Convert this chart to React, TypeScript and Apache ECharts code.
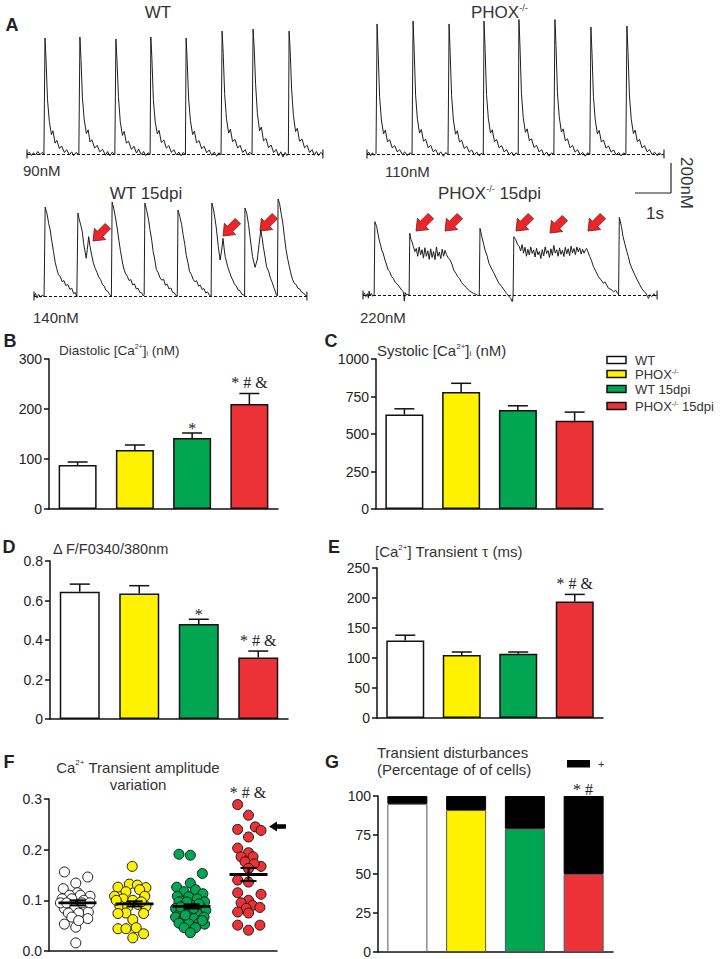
import React, { useEffect, useRef } from "react";
import * as echarts from "echarts";

// ---------------- data ----------------
const GROUPS = ["WT", "PHOX-/-", "WT 15dpi", "PHOX-/- 15dpi"];
const GROUP_COLORS = ["#ffffff", "#fff200", "#00a651", "#ec3237"];

const DIASTOLIC_MEAN = [88, 118, 142, 210];
const DIASTOLIC_SEM = [6, 10, 10, 21];
const DIASTOLIC_NOTES = ["", "", "*", "* # &"];

const SYSTOLIC_MEAN = [630, 780, 660, 588];
const SYSTOLIC_SEM = [38, 58, 28, 58];
const SYSTOLIC_NOTES = ["", "", "", ""];

const DELTA_F_MEAN = [0.644, 0.636, 0.481, 0.312];
const DELTA_F_SEM = [0.039, 0.039, 0.024, 0.032];
const DELTA_F_NOTES = ["", "", "*", "* # &"];

const TAU_MEAN = [129, 105, 107, 194];
const TAU_SEM = [9, 5, 3, 12];
const TAU_NOTES = ["", "", "", "* # &"];

// amplitude variation: [jitter (category units), value]
const AMP_WT: [number, number][] = [
  [-0.23, 0.156], [0.18, 0.146], [-0.03, 0.134], [-0.25, 0.123], [0, 0.115], [-0.14, 0.11], [0.05, 0.11],
  [0.22, 0.108], [-0.27, 0.103], [-0.1, 0.103], [0.11, 0.1], [-0.23, 0.084], [-0.05, 0.087], [0.13, 0.09],
  [-0.16, 0.075], [0.02, 0.075], [0.19, 0.077], [-0.1, 0.067], [0.18, 0.064], [-0.23, 0.053], [-0.03, 0.047],
  [-0.03, 0.016], [0.08, 0.095], [-0.3, 0.095], [0.22, 0.095], [-0.19, 0.095], [0.02, 0.06],
];
const AMP_PHOX: [number, number][] = [
  [-0.04, 0.167], [-0.29, 0.126], [-0.09, 0.132], [0.05, 0.13], [0.2, 0.125], [-0.15, 0.117], [0.09, 0.121],
  [-0.35, 0.108], [0.18, 0.108], [-0.2, 0.103], [-0.03, 0.1], [0.06, 0.092], [-0.26, 0.09], [-0.12, 0.087],
  [0.2, 0.088], [-0.15, 0.075], [0.16, 0.074], [-0.29, 0.074], [-0.03, 0.062], [-0.29, 0.044], [-0.15, 0.044],
  [0.03, 0.046], [0.16, 0.034], [-0.03, 0.026], [-0.32, 0.1], [0.12, 0.097],
];
const AMP_WT15: [number, number][] = [
  [-0.22, 0.191], [-0.02, 0.189], [0.19, 0.153], [-0.02, 0.134], [-0.26, 0.126], [-0.13, 0.117], [0.07, 0.121],
  [0.2, 0.113], [-0.25, 0.108], [-0.05, 0.107], [0.1, 0.103], [0.23, 0.097], [-0.22, 0.097], [-0.13, 0.09],
  [0.01, 0.09], [0.16, 0.087], [-0.28, 0.084], [0.25, 0.08], [-0.19, 0.077], [-0.05, 0.075], [0.1, 0.074],
  [-0.28, 0.067], [-0.13, 0.064], [0.04, 0.064], [0.22, 0.067], [-0.22, 0.055], [-0.05, 0.054], [0.13, 0.055],
  [0.23, 0.053], [-0.13, 0.046], [0.07, 0.046], [-0.02, 0.036], [-0.08, 0.097], [0.13, 0.093], [-0.19, 0.087],
  [0.04, 0.084], [-0.11, 0.071], [0.19, 0.06],
];
const AMP_PHOX15: [number, number][] = [
  [-0.19, 0.289], [0, 0.268], [0.12, 0.245], [0.22, 0.238], [-0.19, 0.24], [0, 0.225], [-0.19, 0.203],
  [0, 0.194], [-0.13, 0.186], [0.08, 0.186], [-0.06, 0.176], [0.22, 0.167], [0.1, 0.172], [0, 0.163],
  [-0.19, 0.14], [0, 0.136], [-0.19, 0.115], [0.22, 0.112], [0, 0.1], [-0.13, 0.095], [0.07, 0.09],
  [0.2, 0.086], [-0.04, 0.084], [-0.19, 0.077], [0, 0.075], [-0.19, 0.051], [0, 0.041], [0.2, 0.051],
];
const AMP_MEAN = [0.095, 0.093, 0.088, 0.151];
const AMP_SEM = [0.005, 0.005, 0.004, 0.013];

const NORMAL_PCT = [95, 91, 79, 50];
const DISTURBED_PCT = [5, 9, 21, 50];

// Ca2+ traces: [time (s), [Ca2+] (nM)]
const TRACE_WT: [number, number][] = [
  [0, 88], [0.06, 102], [0.12, 80], [0.18, 98], [0.24, 84], [0.3, 106], [0.36, 86], [0.42, 100], [0.47, 90],
  [0.5, 838], [0.53, 690], [0.57, 440], [0.62, 300], [0.68, 215], [0.72, 240], [0.78, 160], [0.83, 178], [0.9, 125], [0.96, 142], [1.04, 100], [1.1, 118], [1.18, 84], [1.24, 104], [1.3, 80], [1.36, 100], [1.44, 86],
  [1.47, 845], [1.5, 700], [1.54, 450], [1.59, 310], [1.65, 222], [1.7, 246], [1.75, 168], [1.8, 182], [1.88, 128], [1.95, 146], [2.02, 104], [2.1, 120], [2.18, 82], [2.24, 106], [2.3, 78], [2.37, 102], [2.44, 86],
  [2.47, 832], [2.5, 690], [2.54, 460], [2.59, 300], [2.65, 210], [2.7, 236], [2.76, 160], [2.82, 172], [2.9, 120], [2.97, 140], [3.04, 96], [3.1, 122], [3.17, 86], [3.24, 106], [3.3, 80], [3.36, 98], [3.42, 88],
  [3.44, 845], [3.47, 705], [3.51, 440], [3.56, 300], [3.62, 220], [3.67, 242], [3.73, 165], [3.8, 180], [3.87, 128], [3.94, 144], [4.01, 100], [4.08, 118], [4.15, 84], [4.22, 102], [4.28, 78], [4.34, 100], [4.4, 86],
  [4.42, 838], [4.45, 690], [4.49, 445], [4.54, 305], [4.6, 215], [4.65, 238], [4.71, 162], [4.78, 176], [4.85, 124], [4.92, 140], [4.99, 98], [5.06, 116], [5.13, 82], [5.2, 102], [5.27, 76], [5.33, 98], [5.39, 84],
  [5.42, 883], [5.45, 740], [5.49, 480], [5.54, 320], [5.6, 225], [5.65, 250], [5.71, 170], [5.78, 184], [5.85, 128], [5.92, 146], [5.99, 100], [6.06, 118], [6.12, 84], [6.19, 100], [6.25, 88],
  [6.28, 896], [6.31, 780], [6.35, 540], [6.4, 350], [6.46, 240], [6.51, 264], [6.57, 175], [6.64, 190], [6.71, 130], [6.78, 148], [6.85, 100], [6.92, 120], [6.99, 78], [7.05, 104], [7.11, 70], [7.17, 100], [7.22, 80], [7.26, 94],
  [7.28, 883], [7.31, 760], [7.35, 510], [7.4, 340], [7.46, 235], [7.51, 256], [7.57, 172], [7.64, 186], [7.71, 130], [7.78, 146], [7.85, 100], [7.92, 118], [7.98, 82], [8.04, 106], [8.1, 80], [8.16, 100], [8.22, 90],
];
const TRACE_PHOX: [number, number][] = [
  [0, 108], [0.05, 122], [0.1, 98], [0.15, 118], [0.2, 102], [0.25, 114],
  [0.28, 949], [0.31, 760], [0.35, 480], [0.4, 330], [0.46, 240], [0.51, 264], [0.57, 188], [0.63, 202], [0.7, 150], [0.77, 164], [0.84, 124], [0.91, 138], [0.98, 108], [1.05, 124], [1.12, 100], [1.19, 118], [1.25, 106],
  [1.28, 968], [1.31, 780], [1.35, 490], [1.4, 335], [1.46, 245], [1.51, 268], [1.57, 192], [1.63, 206], [1.7, 150], [1.77, 166], [1.84, 124], [1.91, 138], [1.98, 104], [2.05, 124], [2.12, 96], [2.19, 120], [2.25, 104],
  [2.28, 949], [2.31, 765], [2.35, 485], [2.4, 330], [2.46, 238], [2.51, 260], [2.57, 188], [2.63, 198], [2.7, 146], [2.77, 160], [2.84, 122], [2.91, 136], [2.98, 104], [3.05, 122], [3.12, 98], [3.18, 116], [3.23, 104],
  [3.25, 968], [3.28, 790], [3.32, 495], [3.37, 340], [3.43, 245], [3.48, 266], [3.54, 190], [3.6, 204], [3.67, 150], [3.74, 164], [3.81, 124], [3.88, 138], [3.95, 104], [4.02, 122], [4.08, 98], [4.14, 118], [4.2, 104],
  [4.22, 987], [4.25, 800], [4.29, 500], [4.34, 345], [4.4, 250], [4.45, 272], [4.51, 195], [4.57, 208], [4.64, 152], [4.71, 166], [4.78, 124], [4.85, 138], [4.92, 102], [4.99, 122], [5.06, 96], [5.13, 118], [5.19, 104],
  [5.22, 987], [5.25, 810], [5.29, 505], [5.34, 350], [5.4, 252], [5.45, 272], [5.51, 195], [5.57, 208], [5.64, 150], [5.71, 166], [5.78, 122], [5.85, 138], [5.92, 104], [5.99, 120], [6.06, 96], [6.13, 118], [6.19, 106],
  [6.22, 929], [6.25, 760], [6.29, 480], [6.34, 330], [6.4, 240], [6.45, 262], [6.51, 188], [6.57, 200], [6.64, 148], [6.71, 162], [6.78, 122], [6.85, 136], [6.92, 104], [6.99, 120], [7.06, 98], [7.13, 118], [7.19, 104],
  [7.22, 936], [7.25, 765], [7.29, 485], [7.34, 335], [7.4, 242], [7.45, 264], [7.51, 190], [7.57, 204], [7.64, 150], [7.71, 164], [7.78, 124], [7.85, 138], [7.92, 106], [7.99, 122], [8.06, 100], [8.12, 118], [8.18, 104], [8.25, 110],
];
const TRACE_WT15: [number, number][] = [
  [0, 140], [0.04, 156], [0.08, 128], [0.13, 150], [0.18, 132], [0.23, 146], [0.28, 136],
  [0.31, 714], [0.36, 672], [0.41, 606], [0.45, 566], [0.5, 486], [0.54, 428], [0.59, 356], [0.63, 318], [0.68, 278], [0.73, 266], [0.78, 232], [0.83, 240], [0.88, 208], [0.94, 214], [1.0, 182], [1.05, 190], [1.1, 156], [1.15, 162], [1.19, 134],
  [1.22, 675], [1.25, 641], [1.3, 596], [1.34, 558], [1.38, 478], [1.42, 424], [1.45, 383], [1.48, 440], [1.52, 523], [1.55, 468], [1.59, 418], [1.65, 352], [1.7, 318], [1.75, 292], [1.8, 262], [1.85, 246], [1.9, 214], [1.95, 204], [2.0, 176], [2.05, 170], [2.1, 150], [2.15, 140],
  [2.17, 746], [2.22, 700], [2.27, 636], [2.31, 578], [2.36, 496], [2.4, 434], [2.45, 366], [2.49, 320], [2.54, 286], [2.59, 268], [2.64, 240], [2.69, 246], [2.74, 212], [2.79, 218], [2.84, 186], [2.89, 190], [2.94, 164], [2.99, 160], [3.04, 140], [3.06, 148],
  [3.08, 740], [3.13, 692], [3.18, 636], [3.22, 570], [3.27, 500], [3.31, 426], [3.36, 368], [3.4, 310], [3.45, 290], [3.5, 258], [3.55, 242], [3.6, 248], [3.65, 210], [3.7, 216], [3.75, 186], [3.8, 192], [3.85, 164], [3.9, 160], [3.94, 144], [3.98, 138],
  [4.0, 695], [4.05, 652], [4.1, 602], [4.14, 538], [4.19, 472], [4.23, 402], [4.28, 352], [4.32, 298], [4.37, 280], [4.42, 248], [4.47, 232], [4.52, 238], [4.57, 204], [4.62, 210], [4.67, 182], [4.72, 188], [4.77, 160], [4.82, 166], [4.87, 146], [4.92, 138],
  [4.94, 740], [4.99, 695], [5.06, 587], [5.12, 458], [5.17, 372], [5.21, 430], [5.25, 512], [5.28, 450], [5.31, 394], [5.38, 330], [5.43, 296], [5.48, 262], [5.52, 244], [5.57, 214], [5.62, 206], [5.67, 178], [5.72, 174], [5.77, 152], [5.82, 148], [5.85, 140],
  [5.86, 708], [5.91, 673], [5.96, 600], [6.0, 523], [6.07, 394], [6.14, 325], [6.2, 372], [6.25, 470], [6.3, 566], [6.34, 510], [6.37, 458], [6.42, 390], [6.46, 329], [6.52, 296], [6.57, 254], [6.62, 226], [6.66, 196], [6.7, 172], [6.73, 150], [6.76, 140],
  [6.78, 766], [6.82, 738], [6.87, 666], [6.91, 612], [6.96, 516], [7.0, 440], [7.05, 376], [7.09, 332], [7.14, 282], [7.18, 248], [7.23, 222], [7.28, 214], [7.33, 190], [7.38, 186], [7.43, 166], [7.48, 160], [7.53, 146], [7.58, 140],
];
const TRACE_PHOX15: [number, number][] = [
  [0, 220], [0.04, 232], [0.08, 210], [0.12, 228], [0.15, 200], [0.17, 246], [0.19, 214], [0.23, 230], [0.27, 212], [0.31, 224],
  [0.33, 693], [0.38, 661], [0.42, 610], [0.45, 575], [0.49, 540], [0.52, 510], [0.56, 490], [0.61, 446], [0.65, 420], [0.7, 381], [0.74, 372], [0.79, 340], [0.84, 327], [0.9, 300], [0.98, 284], [1.03, 266], [1.08, 250], [1.12, 241], [1.15, 180], [1.17, 236], [1.21, 220], [1.25, 226],
  [1.28, 214], [1.3, 618], [1.33, 580], [1.36, 564], [1.4, 532], [1.44, 500], [1.48, 520], [1.52, 470], [1.56, 530], [1.6, 480], [1.64, 512], [1.68, 458], [1.72, 525], [1.76, 470], [1.8, 505], [1.84, 450], [1.88, 518], [1.92, 462], [1.96, 500], [2.0, 448], [2.04, 530], [2.08, 470], [2.12, 496], [2.16, 455], [2.2, 515], [2.24, 470], [2.28, 508], [2.32, 480], [2.36, 462],
  [2.42, 446], [2.47, 420], [2.52, 381], [2.58, 360], [2.63, 340], [2.68, 327], [2.74, 300], [2.8, 284], [2.86, 270], [2.93, 252], [3.0, 240], [3.07, 231], [3.14, 224], [3.2, 216],
  [3.23, 220], [3.25, 650], [3.3, 596], [3.35, 550], [3.39, 510], [3.45, 470], [3.5, 424], [3.56, 395], [3.64, 360], [3.7, 330], [3.78, 295], [3.85, 275], [3.92, 252], [3.99, 230], [4.06, 209], [4.1, 200], [4.15, 171], [4.17, 220],
  [4.19, 596], [4.24, 579], [4.29, 548], [4.34, 532], [4.38, 505], [4.42, 545], [4.46, 490], [4.5, 528], [4.54, 470], [4.58, 515], [4.62, 478], [4.66, 530], [4.7, 488], [4.74, 510], [4.78, 465], [4.82, 522], [4.86, 480], [4.9, 500], [4.94, 455], [4.98, 512], [5.02, 472], [5.06, 530], [5.1, 488], [5.14, 506], [5.18, 462], [5.22, 518], [5.26, 476], [5.3, 540], [5.34, 490], [5.38, 512], [5.42, 470], [5.46, 524], [5.5, 482], [5.54, 508], [5.58, 468], [5.62, 528], [5.66, 486], [5.7, 518], [5.74, 474], [5.78, 535], [5.82, 492], [5.86, 520], [5.9, 480], [5.94, 530], [5.98, 498], [6.02, 524], [6.06, 484], [6.1, 515], [6.14, 490], [6.18, 512], [6.21, 521],
  [6.3, 467], [6.35, 440], [6.4, 403], [6.47, 372], [6.54, 338], [6.61, 318], [6.68, 295], [6.72, 305], [6.82, 263], [6.89, 256], [6.96, 241], [7.02, 250], [7.07, 231], [7.1, 222],
  [7.12, 721], [7.18, 661], [7.22, 600], [7.27, 553], [7.33, 500], [7.37, 467], [7.42, 420], [7.49, 381], [7.55, 350], [7.62, 317], [7.68, 290], [7.74, 263], [7.8, 245], [7.86, 231], [7.9, 212], [7.93, 198], [7.97, 222], [8.02, 210], [8.08, 228], [8.12, 214], [8.17, 220],
];
const TRACE_BASELINES = [90, 110, 140, 220];
const TRACE_BASELINE_LABELS = ["90nM", "110nM", "140nM", "220nM"];

// ---------------- layout / style ----------------
const FONT = "Liberation Sans";
const SERIF = "Liberation Serif";
const TXT = "#333";
const PX_PER_S = 36;
const NM_PER_PX = 200 / 31;
const TRACE_LAYOUT = [
  { left: 27, baseY: 154 },
  { left: 367, baseY: 154 },
  { left: 34, baseY: 296 },
  { left: 363, baseY: 295 },
];
const TRACES = [TRACE_WT, TRACE_PHOX, TRACE_WT15, TRACE_PHOX15];

function richFor(size: number) {
  const s = Math.max(7, Math.round(size * 0.55));
  return {
    sup: { fontSize: s, verticalAlign: "top", fontFamily: FONT, fill: TXT },
    sub: { fontSize: s, verticalAlign: "bottom", fontFamily: FONT, fill: TXT },
    g: { fontSize: size + 1, fontFamily: SERIF, fill: TXT },
  };
}

function txt(x: number, y: number, text: string, o: any = {}) {
  const size = o.size || 14;
  return {
    type: "text",
    x,
    y,
    rotation: o.rot || 0,
    silent: true,
    style: {
      text,
      fill: o.fill || TXT,
      fontSize: size,
      fontFamily: o.family || FONT,
      fontWeight: o.weight || "normal",
      align: o.align || "left",
      verticalAlign: o.va || "middle",
      lineHeight: o.lh,
      rich: richFor(size),
    },
  };
}

function redArrow(tx: number, ty: number) {
  const L = 21, H = 10, HW = 8, SW = 3.8;
  const c = Math.SQRT1_2;
  const ux = c, uy = -c, px = c, py = c;
  const pts = [
    [0, 0],
    [H * ux + HW * px, H * uy + HW * py],
    [H * ux + SW * px, H * uy + SW * py],
    [L * ux + SW * px, L * uy + SW * py],
    [L * ux - SW * px, L * uy - SW * py],
    [H * ux - SW * px, H * uy - SW * py],
    [H * ux - HW * px, H * uy - HW * py],
  ].map(([a, b]) => [tx + a, ty + b]);
  return { type: "polygon", silent: true, shape: { points: pts }, style: { fill: "#e8262b", stroke: "#7a1616", lineWidth: 0.8 } };
}

function line(x1: number, y1: number, x2: number, y2: number, w = 1.2) {
  return { type: "line", silent: true, shape: { x1, y1, x2, y2 }, style: { stroke: "#222", lineWidth: w } };
}

function valueYAxis(gridIndex: number, min: number, max: number, interval: number, fmt?: any) {
  return {
    type: "value",
    gridIndex,
    min,
    max,
    interval,
    axisLine: { show: true, lineStyle: { color: "#111", width: 1.5 } },
    axisTick: { show: true, length: 5, lineStyle: { color: "#111", width: 1.5 } },
    axisLabel: { color: "#222", fontSize: 14, fontFamily: FONT, margin: 7, formatter: fmt || ((v: number) => String(v)) },
    splitLine: { show: false },
  };
}

function catXAxis(gridIndex: number) {
  return {
    type: "category",
    gridIndex,
    data: GROUPS,
    axisLine: { show: true, lineStyle: { color: "#111", width: 1.5 } },
    axisTick: { show: false },
    axisLabel: { show: false },
    splitLine: { show: false },
  };
}

function barSeries(idx: number, values: number[], width: number) {
  return {
    type: "bar",
    xAxisIndex: idx,
    yAxisIndex: idx,
    barWidth: width,
    silent: true,
    data: values.map((v, i) => ({ value: v, itemStyle: { color: GROUP_COLORS[i], borderColor: "#111", borderWidth: 1.5 } })),
  };
}

function errSeries(idx: number, means: number[], sems: number[], notes: string[]) {
  return {
    type: "custom",
    xAxisIndex: idx,
    yAxisIndex: idx,
    silent: true,
    z: 5,
    data: means.map((m, i) => [i, m, m + sems[i]]),
    renderItem: (params: any, api: any) => {
      const i = api.value(0);
      const p0 = api.coord([i, api.value(1)]);
      const p1 = api.coord([i, api.value(2)]);
      const children: any[] = [
        { type: "line", shape: { x1: p0[0], y1: p0[1], x2: p1[0], y2: p1[1] }, style: { stroke: "#111", lineWidth: 1.5 } },
        { type: "line", shape: { x1: p1[0] - 10, y1: p1[1], x2: p1[0] + 10, y2: p1[1] }, style: { stroke: "#111", lineWidth: 1.5 } },
      ];
      const note = notes[params.dataIndex];
      if (note) {
        const off = note === "*" ? 5 : 11;
        children.push({
          type: "text",
          style: { text: note, x: p1[0], y: p1[1] - off, align: "center", verticalAlign: "middle", fontSize: 16, fontFamily: SERIF, fill: "#222" },
        });
      }
      return { type: "group", children };
    },
  };
}

function buildOption() {
  const grids: any[] = [];
  const xAxes: any[] = [];
  const yAxes: any[] = [];
  const series: any[] = [];

  // Trace grids 0..3
  TRACES.forEach((tr, k) => {
    const lay = TRACE_LAYOUT[k];
    const tMax = tr[tr.length - 1][0];
    const base = TRACE_BASELINES[k];
    const yMin = base - 6 * NM_PER_PX;
    grids.push({ left: lay.left, top: lay.baseY - 134, width: tMax * PX_PER_S, height: 140, containLabel: false, outerBoundsMode: "none" });
    xAxes.push({ type: "value", gridIndex: k, min: 0, max: tMax, show: false });
    yAxes.push({ type: "value", gridIndex: k, min: yMin, max: yMin + 140 * NM_PER_PX, show: false });
    series.push({
      type: "line",
      xAxisIndex: k,
      yAxisIndex: k,
      data: tr,
      symbol: "none",
      showSymbol: false,
      silent: true,
      lineStyle: { color: "#1e1e1e", width: 1 },
      z: 3,
      markLine: {
        silent: true,
        symbol: "none",
        label: { show: false },
        lineStyle: { color: "#111", width: 1, type: [3, 2] },
        data: [{ yAxis: base }],
      },
    });
    series.push({
      type: "scatter",
      xAxisIndex: k,
      yAxisIndex: k,
      silent: true,
      symbol: "rect",
      symbolSize: [1.3, 9],
      itemStyle: { color: "#111" },
      data: [[0, base], [tMax, base]],
    });
  });

  // Bar grids
  const barGrids = [
    { left: 49, top: 359, width: 229, height: 150 }, // B 4
    { left: 376, top: 359, width: 227, height: 150 }, // C 5
    { left: 50, top: 561, width: 238, height: 158 }, // D 6
    { left: 377, top: 568, width: 226, height: 150 }, // E 7
    { left: 49, top: 799, width: 228, height: 152 }, // F 8
    { left: 378, top: 796, width: 235, height: 156 }, // G 9
  ];
  barGrids.forEach((g) => grids.push({ ...g, containLabel: false, outerBoundsMode: "none" }));

  xAxes.push(catXAxis(4), catXAxis(5), catXAxis(6), catXAxis(7));
  xAxes.push({
    type: "value",
    gridIndex: 8,
    min: 0,
    max: 4,
    axisLine: { show: true, lineStyle: { color: "#111", width: 1.5 } },
    axisTick: { show: false },
    axisLabel: { show: false },
    splitLine: { show: false },
  });
  xAxes.push(catXAxis(9));

  yAxes.push(valueYAxis(4, 0, 300, 100));
  yAxes.push(valueYAxis(5, 0, 1000, 250));
  yAxes.push(valueYAxis(6, 0, 0.8, 0.2));
  yAxes.push(valueYAxis(7, 0, 250, 50));
  yAxes.push(valueYAxis(8, 0, 0.3, 0.1, (v: number) => v.toFixed(1)));
  yAxes.push(valueYAxis(9, 0, 100, 25));

  series.push(barSeries(4, DIASTOLIC_MEAN, 38), errSeries(4, DIASTOLIC_MEAN, DIASTOLIC_SEM, DIASTOLIC_NOTES));
  series.push(barSeries(5, SYSTOLIC_MEAN, 38), errSeries(5, SYSTOLIC_MEAN, SYSTOLIC_SEM, SYSTOLIC_NOTES));
  series.push(barSeries(6, DELTA_F_MEAN, 40), errSeries(6, DELTA_F_MEAN, DELTA_F_SEM, DELTA_F_NOTES));
  series.push(barSeries(7, TAU_MEAN, 38), errSeries(7, TAU_MEAN, TAU_SEM, TAU_NOTES));

  // F scatter
  [AMP_WT, AMP_PHOX, AMP_WT15, AMP_PHOX15].forEach((pts, i) => {
    series.push({
      type: "scatter",
      xAxisIndex: 8,
      yAxisIndex: 8,
      silent: true,
      symbolSize: 10,
      itemStyle: { color: GROUP_COLORS[i], borderColor: "#1a1a1a", borderWidth: 1, opacity: 1 },
      data: pts.map(([j, v]) => [i + 0.5 + j, v]),
      z: 3,
    });
  });
  series.push({
    type: "custom",
    xAxisIndex: 8,
    yAxisIndex: 8,
    silent: true,
    z: 10,
    data: AMP_MEAN.map((m, i) => [i + 0.5, m, AMP_SEM[i]]),
    renderItem: (params: any, api: any) => {
      const x = api.value(0), m = api.value(1), s = api.value(2);
      const pm = api.coord([x, m]);
      const pt = api.coord([x, m + s]);
      const pb = api.coord([x, m - s]);
      const st = { stroke: "#000", lineWidth: 2 };
      return {
        type: "group",
        children: [
          { type: "line", shape: { x1: pm[0] - 19, y1: pm[1], x2: pm[0] + 19, y2: pm[1] }, style: { stroke: "#000", lineWidth: 2.8 } },
          { type: "line", shape: { x1: pt[0], y1: pt[1], x2: pb[0], y2: pb[1] }, style: st },
          { type: "line", shape: { x1: pt[0] - 8, y1: pt[1], x2: pt[0] + 8, y2: pt[1] }, style: st },
          { type: "line", shape: { x1: pb[0] - 8, y1: pb[1], x2: pb[0] + 8, y2: pb[1] }, style: st },
        ],
      };
    },
  });

  // G stacked
  series.push({
    type: "bar",
    xAxisIndex: 9,
    yAxisIndex: 9,
    stack: "g",
    barWidth: 40,
    silent: true,
    data: NORMAL_PCT.map((v, i) => ({ value: v, itemStyle: { color: GROUP_COLORS[i], borderColor: "#555", borderWidth: 1 } })),
  });
  series.push({
    type: "bar",
    xAxisIndex: 9,
    yAxisIndex: 9,
    stack: "g",
    barWidth: 40,
    silent: true,
    itemStyle: { color: "#000", borderColor: "#000", borderWidth: 1 },
    data: DISTURBED_PCT,
  });

  // graphics
  const gfx: any[] = [];
  const letter = (x: number, y: number, t: string) => txt(x, y, t, { size: 18, weight: "bold", align: "center", fill: "#222" });
  gfx.push(letter(12, 25, "A"), letter(10, 341, "B"), letter(331, 341, "C"), letter(9, 547, "D"), letter(334, 547, "E"), letter(9, 762, "F"), letter(332, 762, "G"));

  // trace titles
  gfx.push(txt(158, 12, "WT", { size: 17, align: "center" }));
  gfx.push(txt(471, 12, "PHOX{sup|-/-}", { size: 17 }));
  gfx.push(txt(146, 193, "WT 15dpi", { size: 17, align: "center" }));
  gfx.push(txt(438, 193, "PHOX{sup|-/-} 15dpi", { size: 17 }));
  // baseline labels
  gfx.push(txt(23, 170, TRACE_BASELINE_LABELS[0], { size: 15 }));
  gfx.push(txt(385, 171, TRACE_BASELINE_LABELS[1], { size: 15 }));
  gfx.push(txt(33, 317, TRACE_BASELINE_LABELS[2], { size: 15 }));
  gfx.push(txt(360, 317, TRACE_BASELINE_LABELS[3], { size: 15 }));
  // scale bar
  gfx.push(line(671, 163, 671, 193), line(635, 193, 671, 193));
  gfx.push(txt(686, 183, "200nM", { size: 17, align: "center", rot: -Math.PI / 2 }));
  gfx.push(txt(655, 213, "1s", { size: 17, align: "center" }));
  // red arrows
  [[93, 241], [223, 236], [260, 231], [416, 231], [445, 231], [516, 231], [550, 233], [588, 231]].forEach(([x, y]) => gfx.push(redArrow(x, y)));

  // panel titles
  gfx.push(txt(59, 350, "Diastolic [Ca{sup|2+}]{sub|i} (nM)", { size: 13.5 }));
  gfx.push(txt(377, 350, "Systolic [Ca{sup|2+}]{sub|i} (nM)", { size: 15 }));
  gfx.push(txt(53, 549, "Δ F/F0340/380nm", { size: 14.5 }));
  gfx.push(txt(375, 551, "[Ca{sup|2+}] Transient {g|τ} (ms)", { size: 15 }));
  gfx.push(txt(138, 775.5, "Ca{sup|2+} Transient amplitude\nvariation", { size: 15, align: "center", lh: 17 }));
  gfx.push(txt(377, 760.5, "Transient disturbances\n(Percentage of of cells)", { size: 15, lh: 17 }));

  // legend C
  const legendY = [360, 374, 389, 406];
  const legendText = ["WT", "PHOX{sup|-/-}", "WT 15dpi", "PHOX{sup|-/-} 15dpi"];
  legendY.forEach((y, i) => {
    gfx.push({ type: "rect", silent: true, shape: { x: 607, y: y - 3.5, width: 19, height: 7 }, style: { fill: GROUP_COLORS[i], stroke: "#111", lineWidth: 1.5 } });
    gfx.push(txt(635, y, legendText[i], { size: 13 }));
  });
  // legend G
  gfx.push({ type: "rect", silent: true, shape: { x: 567, y: 760, width: 23, height: 7.5 }, style: { fill: "#000" } });
  gfx.push(txt(598, 764, "+", { size: 11 }));

  // F / G annotations
  gfx.push(txt(248, 792, "* # &", { size: 16, family: SERIF, align: "center", fill: "#222" }));
  gfx.push(txt(583, 789, "* #", { size: 16, family: SERIF, align: "center", fill: "#222" }));
  // black arrow F
  gfx.push({
    type: "polygon",
    silent: true,
    shape: { points: [[269, 826.5], [277, 821.5], [277, 824.2], [286, 824.2], [286, 828.8], [277, 828.8], [277, 831.5]] },
    style: { fill: "#000" },
  });

  return {
    animation: false,
    backgroundColor: "#ffffff",
    textStyle: { fontFamily: FONT },
    grid: grids,
    xAxis: xAxes,
    yAxis: yAxes,
    series,
    graphic: { elements: gfx },
  };
}

export default function App() {
  const ref = useRef<HTMLDivElement>(null);
  useEffect(() => {
    document.body.style.margin = "0";
    const chart = echarts.init(ref.current!, null, { renderer: "svg" });
    chart.setOption(buildOption() as any);
    return () => chart.dispose();
  }, []);
  return <div ref={ref} style={{ width: 720, height: 959 }} />;
}
